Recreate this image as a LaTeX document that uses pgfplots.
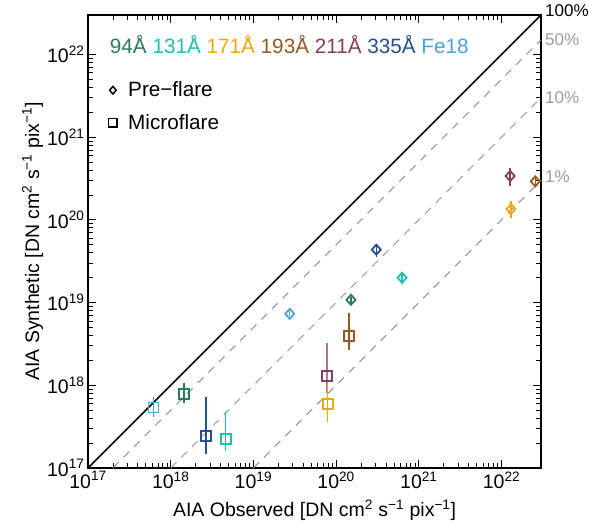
\documentclass[border=0pt]{standalone}
\usepackage{fontspec}
\setmainfont{Liberation Sans}
\usepackage{pgfplots}
\pgfplotsset{compat=1.18}
\newcommand{\lbl}{\fontsize{19.5bp}{23bp}\selectfont}
\newcommand{\keyf}{\fontsize{20.7bp}{24bp}\selectfont}
\newcommand{\pctf}{\fontsize{17bp}{20bp}\selectfont}
\definecolor{c94}{RGB}{44,122,92}
\definecolor{c131}{RGB}{32,190,172}
\definecolor{c171}{RGB}{236,168,18}
\definecolor{c193}{RGB}{150,90,32}
\definecolor{c211}{RGB}{134,62,90}
\definecolor{c335}{RGB}{36,80,145}
\definecolor{cFe}{RGB}{76,162,212}
\definecolor{dgray}{RGB}{140,148,158}
\definecolor{pgray}{RGB}{150,156,164}
\pgfplotsset{
  pre/.style={only marks, mark=diamond, mark size=5bp, line width=1.8bp, mark options={xscale=1.2}, error bars/error bar style={line width=1.3bp}, forget plot},
  mic/.style={only marks, mark=square, mark size=5bp, line width=1.7bp, error bars/error bar style={line width=1.3bp}, forget plot},
}
\begin{document}
\begin{tikzpicture}
\path[use as bounding box] (-88bp,-57bp) rectangle (501bp,468bp);
\begin{axis}[
  at={(0,0)}, anchor=south west,
  scale only axis, width=453bp, height=453bp,
  xmode=log, ymode=log,
  xmin=1e17, xmax=3e22, ymin=1e17, ymax=3e22,
  xtick={1e17,1e18,1e19,1e20,1e21,1e22},
  ytick={1e17,1e18,1e19,1e20,1e21,1e22},
  xticklabels={10\textsuperscript{17},10\textsuperscript{18},10\textsuperscript{19},10\textsuperscript{20},10\textsuperscript{21},10\textsuperscript{22}},
  yticklabels={10\textsuperscript{17},10\textsuperscript{18},10\textsuperscript{19},10\textsuperscript{20},10\textsuperscript{21},10\textsuperscript{22}},
  tick label style={font=\lbl},
  tick align=inside,
  major tick length=8bp, minor tick length=5bp,
  every tick/.style={black, line width=0.8bp},
  axis line style={line width=1.1bp},
  xlabel={AIA Observed [DN cm\textsuperscript{2} s\textsuperscript{−1} pix\textsuperscript{−1}]},
  ylabel={AIA Synthetic [DN cm\textsuperscript{2} s\textsuperscript{−1} pix\textsuperscript{−1}]},
  label style={font=\lbl},
  xlabel style={at={(axis description cs:0.5,-0.093)}, anchor=center},
  ylabel style={at={(axis description cs:-0.122,0.5)}, anchor=center},
  clip=false,
  error bars/y dir=both, error bars/y explicit,
  error bars/error mark=none,
  legend style={at={(axis description cs:0.045,0.857)}, anchor=north west, draw=none, fill=none, font=\keyf, row sep=12bp, inner sep=0pt,
    /tikz/every odd column/.append style={column sep=9bp}},
  legend cell align=left,
  legend image code/.code={\draw[#1] plot coordinates {(0cm,0cm)};},
]
% reference lines
\addplot[black, line width=1.5bp, forget plot] coordinates {(1e17,1e17) (3e22,3e22)};
\addplot[dgray, line width=1bp, dash pattern=on 8bp off 7bp, forget plot] coordinates {(2e17,1e17) (3e22,1.5e22)};
\addplot[dgray, line width=1bp, dash pattern=on 8bp off 7bp, forget plot] coordinates {(1e18,1e17) (3e22,3e21)};
\addplot[dgray, line width=1bp, dash pattern=on 8bp off 7bp, forget plot] coordinates {(1e19,1e17) (3e22,3e20)};

\addlegendimage{only marks, mark=diamond, mark size=3.8bp, black, line width=1.5bp, mark options={xscale=1.15}}
\addlegendentry{Pre−flare}
\addlegendimage{only marks, mark=square, mark size=4.3bp, black, line width=1.6bp}
\addlegendentry{Microflare}

% Pre-flare (diamonds)
\addplot[pre, color=cFe] coordinates {(2.75e19,7.31e18) += (0,0.5e18) -= (0,0.45e18)};
\addplot[pre, color=c94] coordinates {(1.51e20,1.08e19) += (0,0.09e19) -= (0,0.08e19)};
\addplot[pre, color=c335] coordinates {(3.06e20,4.36e19) += (0,0.73e19) -= (0,0.78e19)};
\addplot[pre, color=c131] coordinates {(6.27e20,2.0e19) += (0,0.36e19) -= (0,0.31e19)};
\addplot[pre, color=c171] coordinates {(1.30e22,1.35e20) += (0,0.34e20) -= (0,0.29e20)};
\addplot[pre, color=c211] coordinates {(1.27e22,3.39e20) += (0,0.85e20) -= (0,0.82e20)};
\addplot[pre, color=c193] coordinates {(2.56e22,2.92e20) += (0,0.47e20) -= (0,0.42e20)};

% Microflare (squares)
\addplot[mic, color=cFe] coordinates {(6.17e17,5.38e17) += (0,1.84e17) -= (0,1.30e17)};
\addplot[mic, color=c94] coordinates {(1.45e18,7.85e17) += (0,2.85e17) -= (0,1.82e17)};
\addplot[mic, color=c335] coordinates {(2.67e18,2.45e17) += (0,4.77e17) -= (0,0.99e17)};
\addplot[mic, color=c131] coordinates {(4.62e18,2.25e17) += (0,2.52e17) -= (0,0.63e17)};
\addplot[mic, color=c211, error bars/error bar style={line width=1.3bp, c211!70!white}] coordinates {(7.76e19,1.29e18) += (0,1.95e18) -= (0,0.49e18)};
\addplot[mic, color=c171] coordinates {(7.91e19,5.96e17) += (0,4.64e17) -= (0,2.35e17)};
\addplot[mic, color=c193] coordinates {(1.43e20,3.93e18) += (0,3.50e18) -= (0,1.29e18)};

% wavelength key
\node[anchor=west, font=\keyf, inner sep=0pt] at (axis description cs:0.048,0.934)
  {\textcolor{c94}{94Å} \textcolor{c131}{131Å} \textcolor{c171}{171Å} \textcolor{c193}{193Å} \textcolor{c211}{211Å} \textcolor{c335}{335Å} \textcolor{cFe}{Fe18}};
% percentage labels
\node[anchor=west, font=\pctf, inner sep=0pt, black] at ([xshift=4bp]axis cs:3e22,3.35e22) {100\%};
\node[anchor=west, font=\pctf, inner sep=0pt, pgray] at ([xshift=4bp]axis cs:3e22,1.5e22) {50\%};
\node[anchor=west, font=\pctf, inner sep=0pt, pgray] at ([xshift=4bp]axis cs:3e22,3e21) {10\%};
\node[anchor=west, font=\pctf, inner sep=0pt, pgray] at ([xshift=4bp]axis cs:3e22,3.3e20) {1\%};
\end{axis}
\end{tikzpicture}
\end{document}
